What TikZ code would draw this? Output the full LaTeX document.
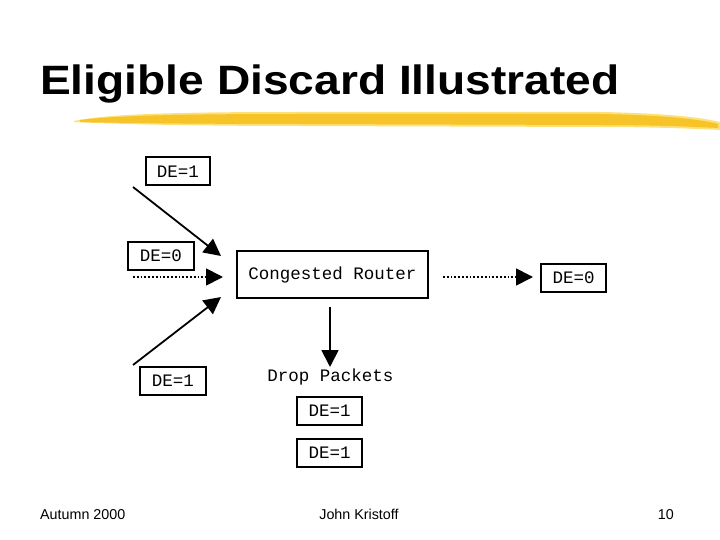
\documentclass[tikz,border=0pt]{standalone}
\usepackage{fontspec}
\setmainfont{Liberation Sans}
\newfontfamily\boxfont{Liberation Mono}
\usetikzlibrary{arrows.meta,positioning}
\definecolor{brush}{RGB}{246,196,40}
\definecolor{brushlight}{RGB}{252,224,120}
\tikzset{
  debox/.style={draw, line width=2pt, inner sep=0pt, minimum width=64pt, minimum height=28pt, font=\boxfont\fontsize{17.5}{17.5}\selectfont},
  flow/.style={line width=1.8pt, -{Triangle[length=17pt,width=17pt]}},
  dotflow/.style={flow, dotted},
  foot/.style={font=\fontsize{14.3}{15}\selectfont}
}
\begin{document}
\begin{tikzpicture}[x=1pt, y=-1pt]
\useasboundingbox (0,0) rectangle (720,540);

% title and brush stroke
\node (title) [anchor=base west, inner sep=0pt, xscale=1.125, transform shape, font=\bfseries\fontsize{41}{44}\selectfont] at (40,95) {Eligible Discard Illustrated};
\fill[brushlight] (74,121) .. controls (110,113) and (200,112) .. (300,112) -- (600,112) .. controls (660,113) and (700,117) .. (720,122) -- (720,130) .. controls (680,128) and (640,127) .. (600,127) -- (300,126) .. controls (200,126) and (110,124) .. (74,122) -- cycle;
\fill[brush] (80,120) .. controls (120,115) and (200,114) .. (300,114) -- (600,114) .. controls (660,115) and (700,119) .. (718,124) -- (718,128) .. controls (680,126) and (640,125) .. (600,125) -- (300,124) .. controls (200,124) and (120,123) .. (80,122) -- cycle;

% nodes
\node (router) [draw, line width=2pt, minimum width=191pt, minimum height=47pt, font=\boxfont\fontsize{17.5}{17.5}\selectfont] at (332.5,274.5) {Congested Router};
\node (in1) [debox] at (178,171.5) {DE=1};
\node (in0) [debox, minimum width=66pt] at (161,256) {DE=0};
\node (in2) [debox, minimum width=66pt] at (173,381) {DE=1};
\node (out0) [debox, minimum width=65pt] at (573.5,277.5) {DE=0};
\node (drop) [font=\boxfont\fontsize{17.5}{17.5}\selectfont] at (330.5,377) {Drop Packets};
\node (drop1) [debox, minimum width=65pt] at (329.5,411) {DE=1};
\node (drop2) [debox, minimum width=65pt] at (329.5,453) {DE=1};

% arrow ends
\coordinate (a1) at (133,187);
\coordinate (b1) at (221,256);
\coordinate (a0) at (133,277);
\coordinate (b0) at (223,277);
\coordinate (a2) at (133,365);
\coordinate (b2) at (221,297);
\coordinate (a3) at (443,277);
\coordinate (b3) at (533,277);
\coordinate (a4) at (330,307);
\coordinate (b4) at (330,367);

\path [flow] (a1) edge (b1);
\path [dotflow] (a0) edge (b0);
\path [flow] (a2) edge (b2);
\path [dotflow] (a3) edge (b3);
\path [flow] (a4) edge (b4);

% footer
\node (season) [foot, anchor=base west, inner sep=0pt] at (40,519) {Autumn 2000};
\node (author) [foot, anchor=base, inner sep=0pt] at (359,519) {John Kristoff};
\node (page) [foot, anchor=base east, inner sep=0pt] at (674,519) {10};
\end{tikzpicture}
\end{document}
